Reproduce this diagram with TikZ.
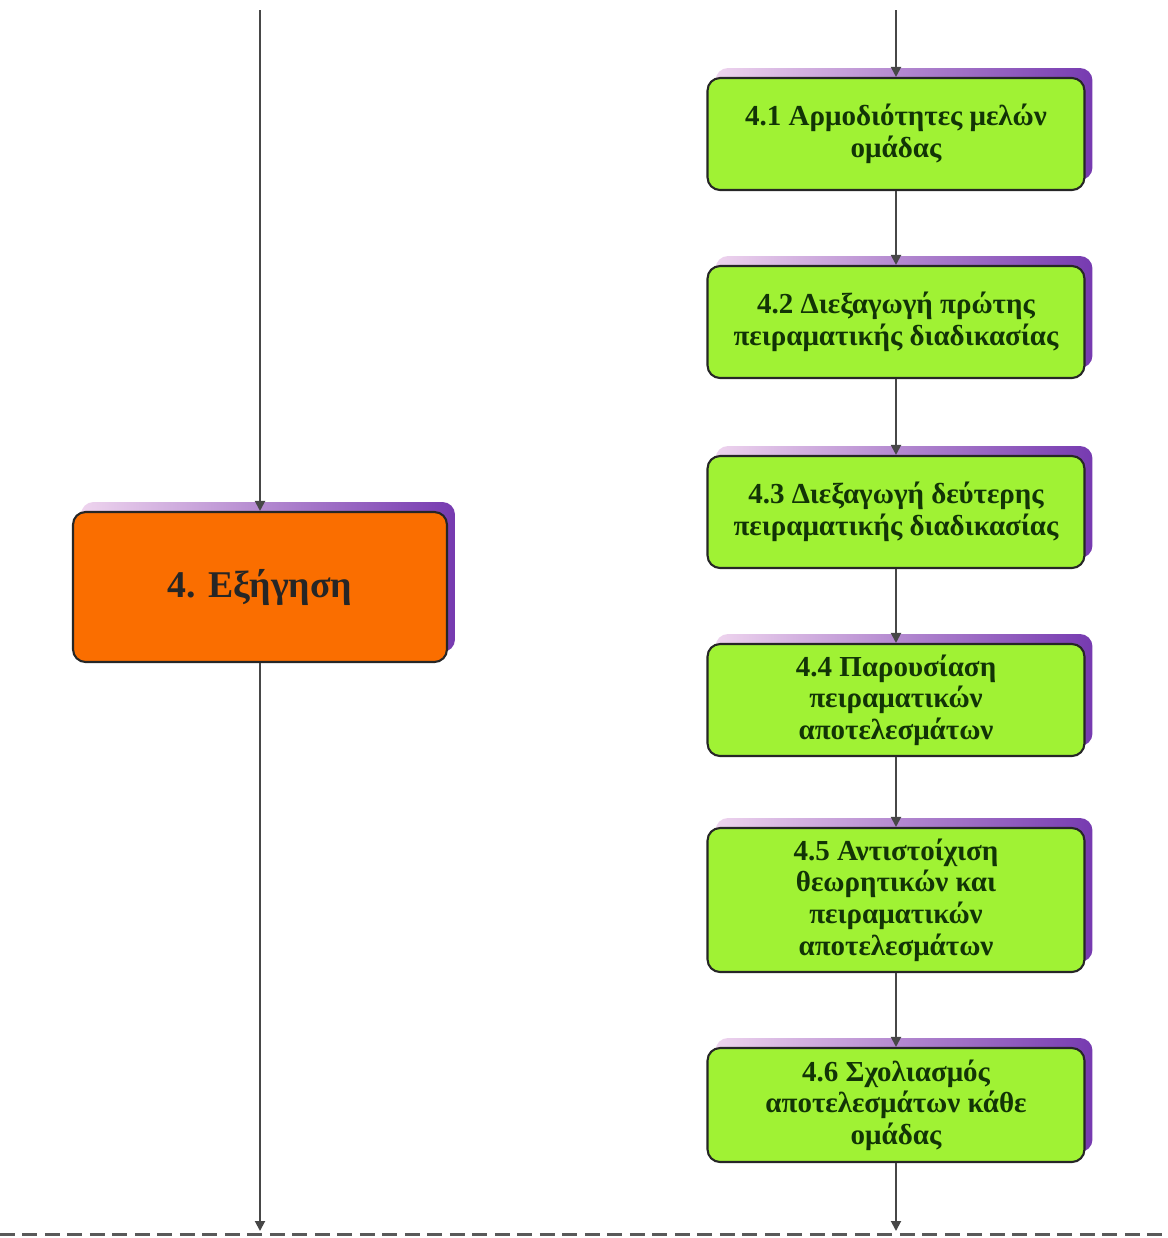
\documentclass[tikz,border=0pt]{standalone}
\usepackage{fontspec}
\setmainfont{Liberation Serif}
\usepackage{xcolor}
\usetikzlibrary{arrows.meta}
\usetikzlibrary{shadows}

\definecolor{boxgreen}{RGB}{160,242,52}
\definecolor{textgreen}{RGB}{18,52,6}
\definecolor{boxorange}{RGB}{250,110,0}
\definecolor{shadelight}{RGB}{238,212,238}
\definecolor{shadedark}{RGB}{118,58,176}

\tikzset{
    purpleshadow/.style={general shadow={shadow xshift=0.16cm, shadow yshift=0.2cm, left color=shadelight, right color=shadedark}},
    stepbox/.style={draw=black!85, line width=1.2pt, rounded corners=0.25cm, fill=boxgreen, text=textgreen,
        minimum width=7.54cm, minimum height=2.24cm, align=center, inner sep=0pt,
        font=\bfseries\fontsize{16.5}{18}\selectfont, purpleshadow},
    mainbox/.style={stepbox, fill=boxorange, text=black!85, minimum width=7.48cm, minimum height=3cm,
        font=\bfseries\fontsize{21.5}{24}\selectfont},
    flow/.style={draw=black!72, line width=1.1pt, -{Triangle[length=0.2cm,width=0.2cm]}}
}

\begin{document}
\begin{tikzpicture}[x=0.02cm, y=-0.02cm]
            \useasboundingbox (0,0) rectangle (1167,1238);

            \node[mainbox] (expl) at (260,587) {4. Εξήγηση};

            \node[stepbox] (s1) at (896,134) {4.1 Αρμοδιότητες μελών\\ομάδας};
            \node[stepbox] (s2) at (896,322) {4.2 Διεξαγωγή πρώτης\\πειραματικής διαδικασίας};
            \node[stepbox] (s3) at (896,512) {4.3 Διεξαγωγή δεύτερης\\πειραματικής διαδικασίας};
            \node[stepbox] (s4) at (896,700) {4.4 Παρουσίαση\\πειραματικών\\αποτελεσμάτων};
            \node[stepbox, minimum height=2.88cm] (s5) at (896,900) {4.5 Αντιστοίχιση\\θεωρητικών και\\πειραματικών\\αποτελεσμάτων};
            \node[stepbox, minimum height=2.28cm] (s6) at (896,1105) {4.6 Σχολιασμός\\αποτελεσμάτων κάθε\\ομάδας};

            \coordinate (lefttop) at (260,10);
            \coordinate (leftend) at (260,1231);
            \coordinate (righttop) at (896,10);
            \coordinate (rightend) at (896,1231);

            \draw[flow] (lefttop) -- (expl);
            \draw[flow] (expl) -- (leftend);

            \draw[flow] (righttop) -- (s1);
            \draw[flow] (s1) -- (s2);
            \draw[flow] (s2) -- (s3);
            \draw[flow] (s3) -- (s4);
            \draw[flow] (s4) -- (s5);
            \draw[flow] (s5) -- (s6);
            \draw[flow] (s6) -- (rightend);

            \draw[black!65, line width=1.7pt, dash pattern=on 0.3cm off 0.15cm] (0,1234) -- (1167,1234);
\end{tikzpicture}
\end{document}
